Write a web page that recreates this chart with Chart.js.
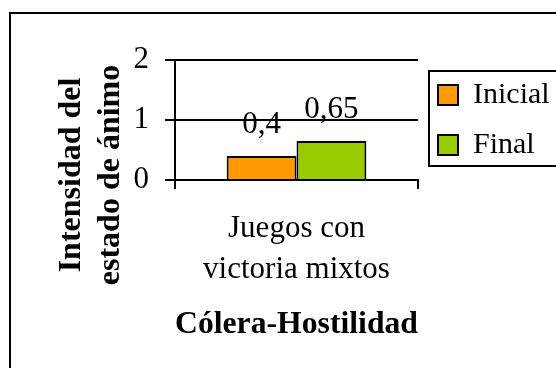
<!DOCTYPE html>
<html lang="es">
<head>
<meta charset="UTF-8">
<title>Cólera-Hostilidad</title>
<script src="https://cdn.jsdelivr.net/npm/chart.js"></script>
<style>
  body { margin: 0; background: #fff; overflow: hidden; }
  .wrap { position: relative; width: 556px; height: 368px; overflow: hidden; }
  .frame {
    position: absolute; left: 9px; top: 12px; width: 600px; height: 400px;
    border-left: 2px solid #000; border-top: 2px solid #000;
  }
  canvas { position: absolute; left: 0; top: 0; }
</style>
</head>
<body>
<div class="wrap">
  <div class="frame"></div>
  <canvas id="chart" width="556" height="368"></canvas>
</div>
<script>
// data
const categories = [['Juegos con', 'victoria mixtos']];
const seriesNames = ['Inicial', 'Final'];
const inicial = [0.4];
const final = [0.65];
const seriesColors = ['#FF9900', '#99CC00'];
const yTitleLines = ['Intensidad del', 'estado de ánimo'];
const xTitle = 'Cólera-Hostilidad';

const serif = '"Liberation Serif", "Times New Roman", serif';

// values written above each bar, with a decimal comma
const valueLabels = {
  id: 'valueLabels',
  afterDatasetsDraw(chart) {
    const ctx = chart.ctx;
    ctx.save();
    ctx.font = '31px ' + serif;
    ctx.fillStyle = '#000';
    ctx.textAlign = 'center';
    ctx.textBaseline = 'alphabetic';
    chart.data.datasets.forEach((ds, i) => {
      chart.getDatasetMeta(i).data.forEach((bar, j) => {
        ctx.fillText(String(ds.data[j]).replace('.', ','), bar.x, bar.y - 23);
      });
    });
    ctx.restore();
  }
};

// two-line rotated y title, sitting lower than the plot centre like the original
const yTitle = {
  id: 'yTitle',
  afterDraw(chart) {
    const ctx = chart.ctx;
    ctx.save();
    ctx.font = 'bold 32px ' + serif;
    ctx.fillStyle = '#000';
    ctx.textAlign = 'center';
    ctx.textBaseline = 'middle';
    ctx.translate(72, 175);
    ctx.rotate(-Math.PI / 2);
    yTitleLines.forEach((t, i) => ctx.fillText(t, 0, i * 39));
    ctx.restore();
  }
};

// frame round the legend (open on the right, it runs off the picture)
const legendBox = {
  id: 'legendBox',
  afterDraw(chart) {
    const hb = chart.legend.legendHitBoxes;
    if (!hb || !hb.length) return;
    const ctx = chart.ctx;
    const top = hb[0].top - 9;
    const last = hb[hb.length - 1];
    const bottom = last.top + last.height + 6;
    ctx.save();
    ctx.strokeStyle = '#000';
    ctx.lineWidth = 2;
    ctx.strokeRect(hb[0].left - 9, top, 300, bottom - top);
    ctx.restore();
  }
};

const ctx = document.getElementById('chart').getContext('2d');
new Chart(ctx, {
  type: 'bar',
  data: {
    labels: categories,
    datasets: [
      { label: seriesNames[0], data: inicial, backgroundColor: seriesColors[0] },
      { label: seriesNames[1], data: final, backgroundColor: seriesColors[1] }
    ]
  },
  options: {
    responsive: false,
    animation: false,
    events: [],
    layout: { padding: { top: 60, left: 0, right: 0, bottom: 0 } },
    datasets: {
      bar: {
        borderColor: '#000',
        borderWidth: 2,
        categoryPercentage: 0.575,
        barPercentage: 1.0
      }
    },
    scales: {
      x: {
        grid: {
          display: true,
          drawOnChartArea: false,
          drawTicks: true,
          tickLength: 9,
          color: '#000',
          lineWidth: 2
        },
        border: { display: true, color: '#000', width: 2 },
        ticks: {
          color: '#000',
          padding: 20,
          maxRotation: 0,
          font: { family: serif, size: 31, lineHeight: 1.3 }
        },
        title: {
          display: true,
          text: xTitle,
          color: '#000',
          font: { family: serif, size: 32, weight: 'bold', lineHeight: 1.2 },
          padding: { top: 0, bottom: 24 }
        },
        afterFit(scale) { scale.height = 188; }
      },
      y: {
        min: 0,
        max: 2,
        ticks: {
          stepSize: 1,
          color: '#000',
          padding: 16,
          font: { family: serif, size: 31 }
        },
        grid: { color: '#000', lineWidth: 2, tickLength: 10 },
        border: { display: true, color: '#000', width: 2 },
        afterFit(scale) { scale.width = 175; }
      }
    },
    plugins: {
      legend: {
        position: 'right',
        align: 'start',
        maxWidth: 138,
        labels: {
          boxWidth: 20,
          boxHeight: 20,
          padding: 20,
          color: '#000',
          font: { family: serif, size: 30 }
        }
      },
      tooltip: { enabled: false }
    }
  },
  plugins: [valueLabels, yTitle, legendBox]
});
</script>
</body>
</html>
